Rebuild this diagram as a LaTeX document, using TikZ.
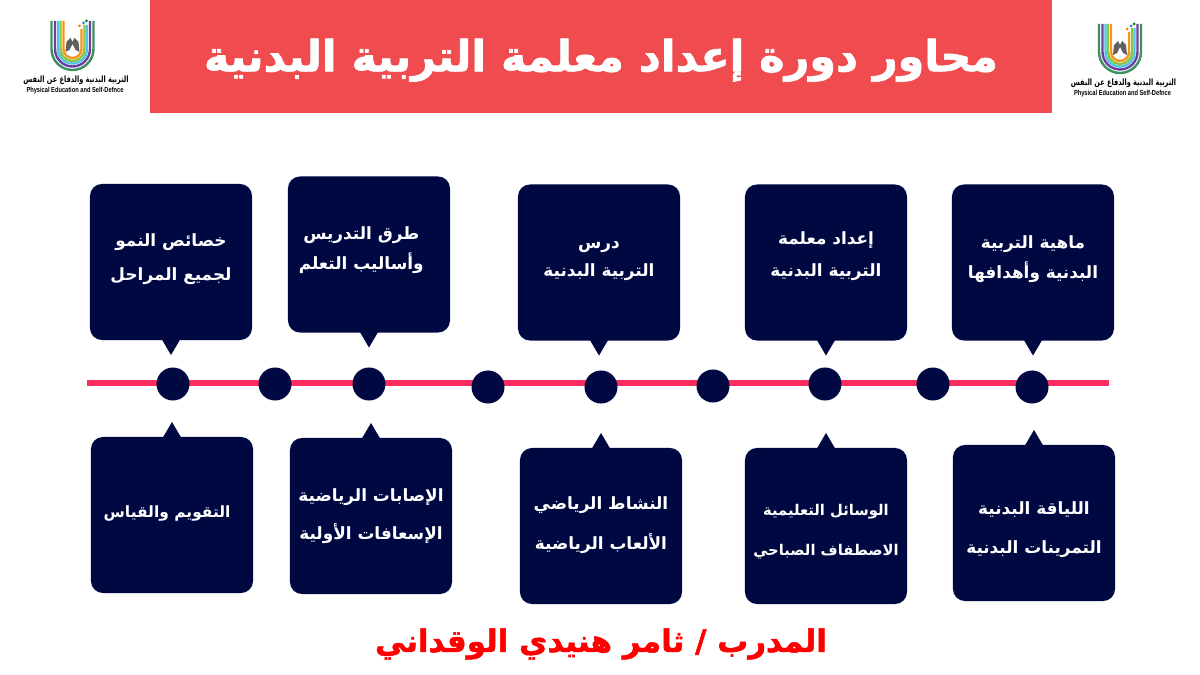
\documentclass[tikz,border=0pt]{standalone}
\usepackage{fontspec}
\usepackage{xcolor}
\setmainfont{Liberation Sans}
\newfontfamily\arabicfont[Script=Arabic]{DejaVu Sans}
\newfontfamily\heavyfont[Script=Arabic,BoldFeatures={FakeBold=1.6}]{DejaVu Sans}
\TeXXeTstate=1
\definecolor{navybox}{HTML}{000842}
\definecolor{titlered}{HTML}{F04C50}
\definecolor{linepink}{HTML}{FF2D5F}
% raise (in pt) and line gap, then the two lines
\newcommand{\boxlines}[4]{\raisebox{#1}[0pt][0pt]{\begin{tabular}[c]{@{}c@{}}#3\\[#2]#4\end{tabular}}}
\tikzset{
    x=.025cm, y=-.025cm,
    infobox/.style={fill=navybox, rounded corners=3mm, minimum width=4.05cm, minimum height=3.9cm,
        inner sep=0pt, outer sep=0pt, text=white, font=\arabicfont\bfseries\fontsize{12}{14}\selectfont},
    dotnode/.style={circle, fill=navybox, minimum size=8.25mm, inner sep=0pt},
    logo/.pic={
        \foreach \r/\c/\t in {21/3F8F5F/21, 17.5/6B3FA0/21, 14.5/4FC3E8/25, 12/8CC63F/25, 9/F7941D/29}{
            \definecolor{tmpc}{HTML}{\c}
            \draw[tmpc, line width=.6mm] (-\r,21) -- (-\r,49) arc[start angle=180, end angle=360, radius=\r*.025cm] -- (\r,\t);
        }
        \fill[gray!75!black] (-7,52) -- (-6,42) -- (-2,38) -- (0,42) -- (2,38) -- (6,42) -- (7,52) -- (3,50) -- (0,44) -- (-3,50) -- cycle;
        \fill[orange] (7,26) circle[radius=1.5];
        \fill[cyan!70!blue] (11,23) circle[radius=1.5];
        \fill[green!50!black] (14,21) circle[radius=1.5];
        \node[font=\arabicfont\bfseries\fontsize{6.2}{7}\selectfont, xscale=.75, inner sep=0pt] (-arname) at (3.5,80) {\beginR التربية البدنية والدفاع عن النفس\endR};
        \node[font=\bfseries\fontsize{5.2}{6}\selectfont, xscale=.78, inner sep=0pt] (-enname) at (2.5,91) {Physical Education and Self-Defnce};
    }
}
\begin{document}
\begin{tikzpicture}
    \useasboundingbox (0,0) rectangle (1200,675);
    % header
    \node[fill=titlered, minimum width=22.55cm, minimum height=2.825cm, inner sep=0pt, text=white,
        font=\heavyfont\bfseries\fontsize{30.5}{34}\selectfont] (title) at (601,56.5) {\raisebox{-10.5pt}[0pt][0pt]{\beginR محاور دورة إعداد معلمة التربية البدنية\endR}};
    \pic (logoleft) at (72.5,0) {logo};
    \pic (logoright) at (1120,3) {logo};
    % time line
    \coordinate (lineleft) at (87,383);
    \coordinate (lineright) at (1109,383);
    \draw[linepink, line width=1.5mm] (lineleft) -- (lineright);
    \foreach \n/\x/\y in {1/173/384, 2/275/384, 3/369/384, 4/488/387, 5/601/387, 6/713/386, 7/825/384, 8/933/384, 9/1032/387}
        \node[dotnode] (dot\n) at (\x,\y) {};
    % upper boxes
    \node[infobox] (up1) at (171,262) {\boxlines{-1pt}{10pt}{\beginR خصائص النمو\endR}{\beginR لجميع المراحل\endR}};
    \node[infobox] (up2) at (369,254.5) {\boxlines{0pt}{5pt}{\beginR طرق التدريس\endR}{\beginR وأساليب التعلم\endR}\hspace*{11pt}};
    \node[infobox] (up3) at (599,262.5) {\boxlines{0pt}{6pt}{\beginR درس\endR}{\beginR التربية البدنية\endR}};
    \node[infobox] (up4) at (826,262.5) {\boxlines{1pt}{9pt}{\beginR إعداد معلمة\endR}{\beginR التربية البدنية\endR}};
    \node[infobox] (up5) at (1033,262.5) {\boxlines{-1pt}{5pt}{\beginR ماهية التربية\endR}{\beginR البدنية وأهدافها\endR}};
    % lower boxes
    \node[infobox, font=\arabicfont\bfseries\fontsize{11}{13}\selectfont] (low1) at (172,515) {\raisebox{-2pt}[0pt][0pt]{\beginR التقويم والقياس\endR\hspace*{7pt}}};
    \node[infobox] (low2) at (371,516) {\boxlines{-3.5pt}{11.5pt}{\beginR الإصابات الرياضية\endR}{\beginR الإسعافات الأولية\endR}};
    \node[infobox] (low3) at (601,526) {\boxlines{-2.5pt}{13pt}{\beginR النشاط الرياضي\endR}{\beginR الألعاب الرياضية\endR}};
    \node[infobox, font=\arabicfont\bfseries\fontsize{10.5}{13}\selectfont] (low4) at (826,526) {\boxlines{-7pt}{15pt}{\beginR الوسائل التعليمية\endR}{\beginR الاصطفاف الصباحي\endR}};
    \node[infobox] (low5) at (1034,523) {\boxlines{-8pt}{14pt}{\beginR اللياقة البدنية\endR}{\beginR التمرينات البدنية\endR}};
    \foreach \b in {up1,up2,up3,up4,up5}
        \fill[navybox] ([xshift=-2.5mm,yshift=.5mm]\b.south) -- ([yshift=-3.75mm]\b.south) -- ([xshift=2.5mm,yshift=.5mm]\b.south) -- cycle;
    \foreach \b in {low1,low2,low3,low4,low5}
        \fill[navybox] ([xshift=-2.5mm,yshift=-.5mm]\b.north) -- ([yshift=3.75mm]\b.north) -- ([xshift=2.5mm,yshift=-.5mm]\b.north) -- cycle;
    % trainer
    \node[text=red, inner sep=0pt, font=\heavyfont\bfseries\fontsize{22}{26}\selectfont] (trainer) at (601,644) {\beginR المدرب / ثامر هنيدي الوقداني\endR};
\end{tikzpicture}
\end{document}
